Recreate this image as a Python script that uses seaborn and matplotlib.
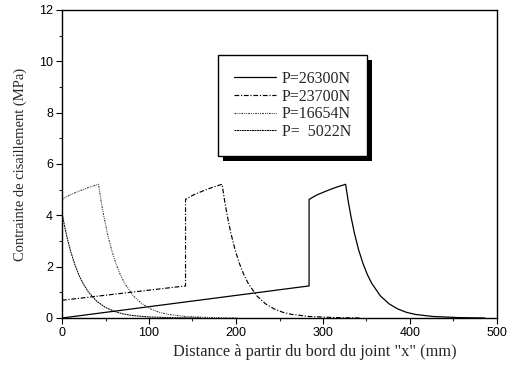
import matplotlib
matplotlib.use("Agg")
import matplotlib.pyplot as plt
import seaborn as sns
from matplotlib.patches import Rectangle
from matplotlib.ticker import MultipleLocator

# ---- data ----
labels = ["P=26300N", "P=23700N", "P=16654N", "P=  5022N"]

x_26300 = [0, 284, 284, 289, 294, 304, 314, 326, 329, 332, 336, 341, 346, 351, 356,
           366, 376, 386, 396, 406, 426, 456, 486]
y_26300 = [0, 1.25, 4.62, 4.72, 4.81, 4.95, 5.08, 5.21, 4.55, 3.98, 3.32, 2.65, 2.12,
           1.69, 1.35, 0.86, 0.55, 0.35, 0.22, 0.14, 0.06, 0.015, 0.0]

x_23700 = [0, 142, 142, 147, 152, 162, 172, 184, 187, 190, 194, 199, 204, 209, 214,
           224, 234, 244, 254, 264, 284, 314, 344]
y_23700 = [0.69, 1.25, 4.62, 4.72, 4.81, 4.95, 5.08, 5.21, 4.55, 3.98, 3.32, 2.65, 2.12,
           1.69, 1.35, 0.86, 0.55, 0.35, 0.22, 0.14, 0.06, 0.015, 0.0]

x_16654 = [0, 5, 10, 20, 30, 42, 45, 48, 52, 57, 62, 67, 72,
           82, 92, 102, 112, 122, 142, 172, 202]
y_16654 = [4.62, 4.72, 4.81, 4.95, 5.08, 5.21, 4.55, 3.98, 3.32, 2.65, 2.12,
           1.69, 1.35, 0.86, 0.55, 0.35, 0.22, 0.14, 0.06, 0.015, 0.0]

x_5022 = [0, 3, 6, 10, 15, 20, 25, 30, 40, 50, 60, 70, 80, 100, 130, 160]
y_5022 = [4.1, 3.57, 3.11, 2.59, 2.06, 1.63, 1.30, 1.03, 0.65, 0.41, 0.26, 0.16,
          0.10, 0.04, 0.01, 0.0]

x_ticks = [0, 100, 200, 300, 400, 500]
y_ticks = [0, 2, 4, 6, 8, 10, 12]

# ---- style ----
sns.set_style("ticks")
plt.rcParams["font.family"] = ["Liberation Sans", "DejaVu Sans"]
serif = ["Liberation Serif", "DejaVu Serif"]

fig = plt.figure(figsize=(5.21, 3.70), dpi=100)
ax = fig.add_axes([62 / 521, 52 / 370, 435 / 521, 308 / 370])

series = [(x_26300, y_26300), (x_23700, y_23700), (x_16654, y_16654), (x_5022, y_5022)]
styles = ["-", (0, (4, 1.5, 1, 1.5)), (0, (1.6, 1.0, 0.8, 1.0, 0.8, 1.0)), (0, (1.8, 0.6))]
colors = ["black", "black", "#333333", "black"]
widths = [0.9, 0.85, 0.8, 0.75]

for (xs, ys), lab, ls, c, w in zip(series, labels, styles, colors, widths):
    sns.lineplot(x=xs, y=ys, estimator=None, sort=False, ax=ax, color=c,
                 linewidth=w, label=lab)
    ax.lines[-1].set_linestyle(ls)

ax.set_xlim(0, 500)
ax.set_ylim(0, 12)
ax.set_xticks(x_ticks)
ax.set_yticks(y_ticks)
ax.xaxis.set_minor_locator(MultipleLocator(50))
ax.yaxis.set_minor_locator(MultipleLocator(1))
ax.tick_params(which="major", direction="out", length=4.5, width=0.8,
               labelsize=9, colors="black", pad=2)
ax.tick_params(which="minor", direction="out", length=2.5, width=0.8)
ax.tick_params(top=False, right=False, which="both")
for s in ax.spines.values():
    s.set_visible(True)
    s.set_linewidth(1.0)
    s.set_color("black")

ax.set_xlabel('Distance à partir du bord du joint "x" (mm)', family=serif, fontsize=11.8)
ax.set_ylabel("Contrainte de cisaillement (MPa)", family=serif, fontsize=10.5)
ax.xaxis.set_label_coords((315 - 62) / 435, (318 - 344) / 308)
ax.yaxis.set_label_coords((27 - 62) / 435, 0.5)

leg = ax.legend(loc="upper left", bbox_to_anchor=((218 - 62) / 435, (318 - 55) / 308),
                prop={"family": serif, "size": 11.5}, frameon=True, fancybox=False,
                framealpha=1, edgecolor="black", handlelength=2.6, handletextpad=0.4,
                borderpad=1.0, labelspacing=0.1, borderaxespad=0)
leg.get_frame().set_linewidth(1.0)
leg.set_zorder(10)

fig.canvas.draw()
bb = leg.get_window_extent()
shadow = Rectangle((bb.x0 + 5, bb.y0 - 5), bb.width, bb.height, transform=None,
                   facecolor="black", edgecolor="none", zorder=9)
ax.add_artist(shadow)

fig.savefig("out.png", dpi=100)
